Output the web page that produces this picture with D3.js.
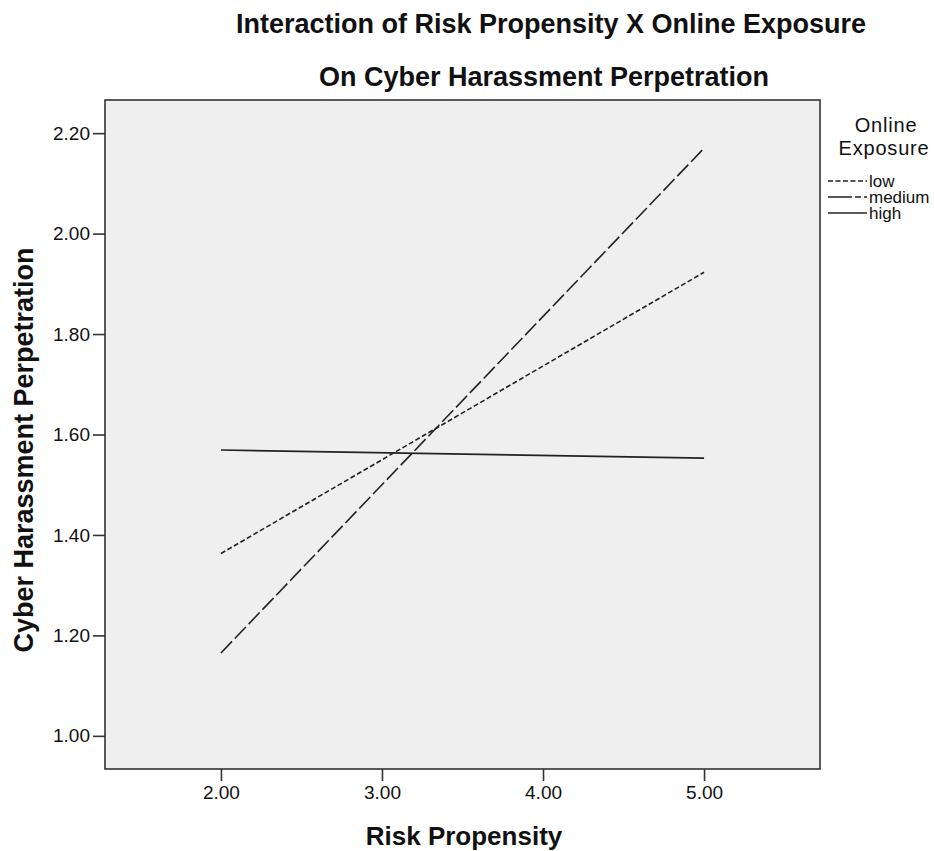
<!DOCTYPE html>
<html>
<head>
<meta charset="utf-8">
<script src="https://cdn.jsdelivr.net/npm/d3@7"></script>
<style>
  body { margin: 0; background: #ffffff; }
  svg text { font-family: "Liberation Sans", Arial, sans-serif; fill: #111; }
</style>
</head>
<body>
<svg id="chart" width="934" height="851"></svg>
<script>
// values
var riskValues = [2, 5];
var lowExposure = [1.363, 1.923];
var mediumExposure = [1.165, 2.170];
var highExposure = [1.569, 1.553];
var seriesNames = ["low", "medium", "high"];
var xTicks = [2, 3, 4, 5];
var yTicks = [1.0, 1.2, 1.4, 1.6, 1.8, 2.0, 2.2];

var svg = d3.select("#chart");

var plotLeft = 105, plotRight = 820, plotTop = 100, plotBottom = 769;

var x = d3.scaleLinear().domain([1.28, 5.72]).range([plotLeft, plotRight]);
var y = d3.scaleLinear().domain([0.934, 2.266]).range([plotBottom, plotTop]);

// plot background
svg.append("rect")
  .attr("x", plotLeft).attr("y", plotTop)
  .attr("width", plotRight - plotLeft).attr("height", plotBottom - plotTop)
  .attr("fill", "#efefef")
  .attr("stroke", "#333").attr("stroke-width", 1.6);

var yAxis = d3.axisLeft(y).tickValues(yTicks)
  .tickFormat(d3.format(".2f")).tickSize(12).tickPadding(3);
var xAxis = d3.axisBottom(x).tickValues(xTicks)
  .tickFormat(d3.format(".2f")).tickSize(12).tickPadding(5);

var gy = svg.append("g").attr("transform", "translate(" + plotLeft + ",0)").call(yAxis);
var gx = svg.append("g").attr("transform", "translate(0," + plotBottom + ")").call(xAxis);
[gy, gx].forEach(function(g){
  g.select(".domain").remove();
  g.selectAll(".tick line").attr("stroke", "#333").attr("stroke-width", 1.6);
  g.selectAll(".tick text")
    .style("font-family", '"Liberation Sans", Arial, sans-serif')
    .style("font-size", "19px")
    .attr("fill", "#222");
});

// lines
var seriesData = [lowExposure, mediumExposure, highExposure];
var dashes = ["5,2.5", "16,4", null];

var line = d3.line()
  .x(function(d, i){ return x(riskValues[i]); })
  .y(function(d){ return y(d); });

svg.selectAll("path.series")
  .data(seriesData)
  .enter()
  .append("path")
  .attr("class", "series")
  .attr("d", line)
  .attr("fill", "none")
  .attr("stroke", "#222")
  .attr("stroke-width", 1.6)
  .attr("stroke-dasharray", function(d, i){ return dashes[i]; });

// titles
svg.append("text").attr("x", 551).attr("y", 33)
  .attr("text-anchor", "middle")
  .style("font-size", "27px").style("font-weight", "bold")
  .text("Interaction of Risk Propensity X Online Exposure");
svg.append("text").attr("x", 544).attr("y", 86)
  .attr("text-anchor", "middle")
  .style("font-size", "27px").style("font-weight", "bold")
  .text("On Cyber Harassment Perpetration");

svg.append("text").attr("x", 464).attr("y", 845)
  .attr("text-anchor", "middle")
  .style("font-size", "26px").style("font-weight", "bold")
  .text("Risk Propensity");

svg.append("text")
  .attr("transform", "translate(33,450) rotate(-90)")
  .attr("text-anchor", "middle")
  .style("font-size", "27px").style("font-weight", "bold")
  .text("Cyber Harassment Perpetration");

// legend
var legend = svg.append("g");
legend.append("text").attr("x", 886).attr("y", 132)
  .attr("text-anchor", "middle")
  .style("font-size", "20px").style("letter-spacing", "0.8px")
  .text("Online");
legend.append("text").attr("x", 884).attr("y", 155)
  .attr("text-anchor", "middle")
  .style("font-size", "20px").style("letter-spacing", "0.8px")
  .text("Exposure");

var items = legend.selectAll("g.item")
  .data(seriesNames)
  .enter()
  .append("g")
  .attr("class", "item")
  .attr("transform", function(d, i){ return "translate(0," + (181 + i * 16) + ")"; });

items.append("line")
  .attr("x1", 828).attr("x2", 867)
  .attr("y1", 0).attr("y2", 0)
  .attr("stroke", "#222").attr("stroke-width", 1.6)
  .attr("stroke-dasharray", function(d, i){ return i == 1 ? "24,3,6,3" : dashes[i]; });

items.append("text")
  .attr("x", 869).attr("y", 6)
  .style("font-size", "17px")
  .text(function(d){ return d; });
</script>
</body>
</html>
